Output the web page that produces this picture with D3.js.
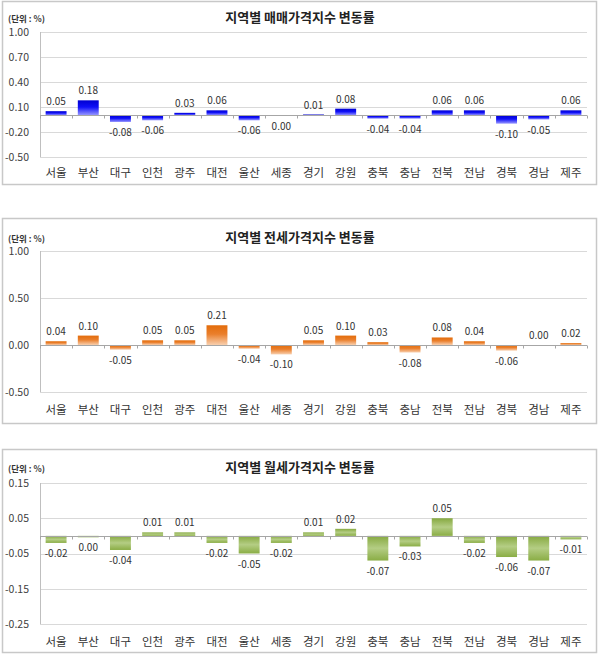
<!DOCTYPE html>
<html>
<head>
<meta charset="utf-8">
<script src="https://cdn.jsdelivr.net/npm/d3@7"></script>
<style>
  html, body { margin: 0; padding: 0; background: #fff; }
  svg { display: block; }
  text { font-family: "Noto Sans CJK KR", "Noto Sans", sans-serif; }
</style>
</head>
<body>
<svg id="chart" width="600" height="655"></svg>
<script>
// ---------- data ----------
const regions = ["서울","부산","대구","인천","광주","대전","울산","세종","경기","강원","충북","충남","전북","전남","경북","경남","제주"];

const saleTitle = "지역별 매매가격지수 변동률";
const saleValues = [0.05, 0.18, -0.08, -0.06, 0.03, 0.06, -0.06, -0.002, 0.01, 0.08, -0.04, -0.04, 0.06, 0.06, -0.10, -0.05, 0.06];
const saleTicks = [1.00, 0.70, 0.40, 0.10, -0.20, -0.50];

const jeonseTitle = "지역별 전세가격지수 변동률";
const jeonseValues = [0.04, 0.10, -0.05, 0.05, 0.05, 0.21, -0.04, -0.10, 0.05, 0.10, 0.03, -0.08, 0.08, 0.04, -0.06, 0.00, 0.02];
const jeonseTicks = [1.00, 0.50, 0.00, -0.50];

const rentTitle = "지역별 월세가격지수 변동률";
const rentValues = [-0.02, -0.004, -0.04, 0.01, 0.01, -0.02, -0.05, -0.02, 0.01, 0.02, -0.07, -0.03, 0.05, -0.02, -0.06, -0.07, -0.01];
const rentTicks = [0.15, 0.05, -0.05, -0.15, -0.25];

const unitLabel = "(단위 : %)";

// ---------- drawing ----------
const svg = d3.select("#chart");
const defs = svg.append("defs");

function gradient(id, stops) {
  const g = defs.append("linearGradient").attr("id", id)
    .attr("x1", 0).attr("y1", 0).attr("x2", 0).attr("y2", 1);
  stops.forEach(s => g.append("stop").attr("offset", s[0]).attr("stop-color", s[1]));
}
gradient("gBlue", [[0, "#0000d0"], [0.45, "#1010f8"], [1, "#9a9aff"]]);
gradient("gOrange", [[0, "#e36c0a"], [0.45, "#ea7f2c"], [1, "#f8cfae"]]);
gradient("gGreen", [[0, "#86a940"], [0.5, "#b4cd84"], [1, "#8aad45"]]);

const fmt = v => ((Math.round(v * 100) + 0) / 100).toFixed(2);

function drawPanel(cfg) {
  const g = svg.append("g");
  // panel border
  g.append("rect")
    .attr("x", 2.5).attr("y", cfg.boxTop + 0.5)
    .attr("width", 594).attr("height", cfg.boxBottom - cfg.boxTop)
    .attr("fill", "#fff").attr("stroke", "#c8c8c8").attr("stroke-width", 1.5);

  const x = d3.scaleBand().domain(regions).range([40, 587])
    .paddingInner(0.35).paddingOuter(0.175);
  const y = d3.scaleLinear().domain(cfg.domain).range(cfg.range);

  // gridlines
  g.append("g").selectAll("line").data(cfg.ticks).join("line")
    .attr("x1", 40).attr("x2", 587)
    .attr("y1", d => Math.round(y(d)) + 0.5).attr("y2", d => Math.round(y(d)) + 0.5)
    .attr("stroke", "#d9d9d9").attr("stroke-width", 1);

  // y axis
  const ya = g.append("g").attr("transform", "translate(40,0)")
    .call(d3.axisLeft(y).tickValues(cfg.ticks).tickSize(0).tickPadding(11)
      .tickFormat(d => d.toFixed(2)));
  ya.select(".domain").remove();
  ya.selectAll("text").attr("font-size", 10.5).attr("fill", "#404040")
    .attr("font-family", "\"Noto Sans CJK KR\", sans-serif");
  g.append("line").attr("x1", 40.5).attr("x2", 40.5)
    .attr("y1", y(cfg.domain[1])).attr("y2", y(cfg.domain[0]))
    .attr("stroke", "#bfbfbf");

  // bars
  g.append("g").selectAll("rect").data(cfg.values).join("rect")
    .attr("x", (d, i) => x(regions[i]))
    .attr("width", x.bandwidth())
    .attr("y", d => y(Math.max(0, d)))
    .attr("height", d => Math.abs(y(d) - y(0)))
    .attr("fill", `url(#${cfg.grad})`);

  // zero line with category ticks
  const y0 = Math.round(y(0)) + 0.5;
  g.append("line").attr("x1", 40).attr("x2", 587).attr("y1", y0).attr("y2", y0)
    .attr("stroke", "#a6a6a6");
  g.append("g").selectAll("line").data(d3.range(regions.length + 1)).join("line")
    .attr("x1", k => Math.round(x.range()[0] + k * x.step()) + 0.5)
    .attr("x2", k => Math.round(x.range()[0] + k * x.step()) + 0.5)
    .attr("y1", y0).attr("y2", y0 + 3)
    .attr("stroke", "#a6a6a6");

  // value labels
  g.append("g").selectAll("text").data(cfg.values).join("text")
    .attr("x", (d, i) => x(regions[i]) + x.bandwidth() / 2)
    .attr("y", d => d >= 0 ? y(d) - 6 : y(d) + 14)
    .attr("text-anchor", "middle")
    .attr("font-size", 10)
    .attr("fill", "#333")
    .text(d => fmt(d));

  // category axis
  const xa = g.append("g").attr("transform", `translate(0,${cfg.labelY})`)
    .call(d3.axisBottom(x).tickSize(0).tickPadding(0));
  xa.select(".domain").remove();
  xa.selectAll("text").attr("font-size", 11.5).attr("fill", "#333")
    .attr("dy", "0.35em")
    .attr("font-family", "\"Noto Sans CJK KR\", sans-serif");

  // title
  g.append("text").attr("x", 300).attr("y", cfg.titleY)
    .attr("text-anchor", "middle").attr("font-size", 13).attr("font-weight", "bold")
    .attr("fill", "#222").text(cfg.title);
  // unit
  g.append("text").attr("x", 8).attr("y", cfg.titleY)
    .attr("font-size", 8.5).attr("font-weight", "bold")
    .attr("fill", "#333").text(unitLabel);
}

drawPanel({ title: saleTitle, values: saleValues, ticks: saleTicks, grad: "gBlue",
  boxTop: 1, boxBottom: 184, domain: [-0.5, 1.0], range: [157, 32], labelY: 173, titleY: 22 });
drawPanel({ title: jeonseTitle, values: jeonseValues, ticks: jeonseTicks, grad: "gOrange",
  boxTop: 218, boxBottom: 423, domain: [-0.5, 1.0], range: [392, 251], labelY: 410, titleY: 242 });
drawPanel({ title: rentTitle, values: rentValues, ticks: rentTicks, grad: "gGreen",
  boxTop: 449, boxBottom: 652, domain: [-0.25, 0.15], range: [624, 483], labelY: 642, titleY: 472 });
</script>
</body>
</html>
